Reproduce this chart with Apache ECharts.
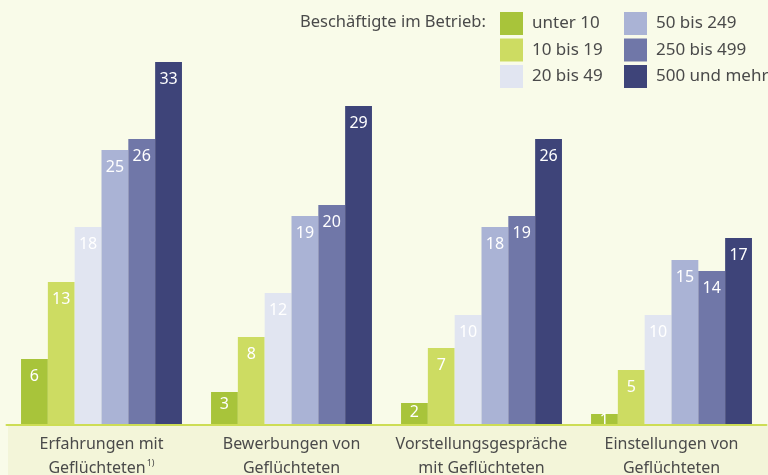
<!DOCTYPE html>
<html>
<head>
<meta charset="utf-8">
<script src="https://cdn.jsdelivr.net/npm/echarts@6/dist/echarts.min.js"></script>
<style>
	html, body { margin: 0; padding: 0; background: #f9fbe9; }
	#main { width: 768px; height: 475px; }
</style>
</head>
<body>
<div id="main"></div>
<script>
// Kategorien (x-Achse)
var categories = ['Erfahrungen mit\nGeflüchteten', 'Bewerbungen von\nGeflüchteten', 'Vorstellungsgespräche\nmit Geflüchteten', 'Einstellungen von\nGeflüchteten'];
var footnotes = ['1)', '', '', ''];

// Betriebsgrößen
var sizeNames = ['unter 10', '10 bis 19', '20 bis 49', '50 bis 249', '250 bis 499', '500 und mehr'];
var unter10 = [6, 3, 2, 1];
var bis19 = [13, 8, 7, 5];
var bis49 = [18, 12, 10, 10];
var bis249 = [25, 19, 18, 15];
var bis499 = [26, 20, 19, 14];
var ab500 = [33, 29, 26, 17];

var colors = ['#a8c43a', '#cddc62', '#e1e5f1', '#aab3d5', '#7077a8', '#3e4479'];
var fontFam = '"Noto Sans", "Open Sans", sans-serif';

var allData = [unter10, bis19, bis49, bis249, bis499, ab500];
var series = [];
for (var i = 0; i < allData.length; i++) {
	series.push({
		name: sizeNames[i],
		type: 'bar',
		barGap: '0%',
		barCategoryGap: '15.3%',
		itemStyle: { color: colors[i] },
		data: allData[i].map(function (v) {
			return {
				value: v,
				label: { distance: Math.min(9, 3 * v - 5) }
			};
		}),
		label: {
			show: true,
			position: 'insideTop',
			color: '#ffffff',
			fontSize: 16,
			fontFamily: fontFam
		}
	});
}

var legendText = { color: '#4a4a4a', fontSize: 17, fontFamily: fontFam, padding: [0, 0, 0, 4] };

var myChart = echarts.init(document.getElementById('main'));
var option = {
	backgroundColor: '#f9fbe9',
	animation: false,
	color: colors,
	title: {
		text: 'Beschäftigte im Betrieb:',
		left: 300,
		top: 14,
		padding: 0,
		textStyle: { color: '#4a4a4a', fontSize: 16.5, fontWeight: 'normal', fontFamily: fontFam }
	},
	legend: [
		{
			data: sizeNames.slice(0, 3),
			orient: 'vertical',
			left: 500,
			top: 12,
			padding: 0,
			itemWidth: 23,
			itemHeight: 23,
			itemGap: 3.5,
			icon: 'rect',
			selectedMode: false,
			textStyle: legendText
		},
		{
			data: sizeNames.slice(3),
			orient: 'vertical',
			left: 624,
			top: 12,
			padding: 0,
			itemWidth: 23,
			itemHeight: 23,
			itemGap: 3.5,
			icon: 'rect',
			selectedMode: false,
			textStyle: legendText
		}
	],
	grid: { left: 6.5, right: 1.5, top: 29, bottom: 50, outerBoundsMode: 'none', containLabel: false },
	graphic: [
		{
			type: 'rect',
			z: 50,
			shape: { x: 8, y: 426, width: 760, height: 49 },
			style: { fill: '#f3f5d9' }
		}
	],
	xAxis: {
		type: 'category',
		data: categories,
		z: 60,
		axisLine: { lineStyle: { color: '#cddd55', width: 2 } },
		axisTick: { show: false },
		axisLabel: {
			interval: 0,
			margin: 7,
			color: '#4a4a4a',
			fontSize: 16,
			lineHeight: 24,
			fontFamily: fontFam,
			formatter: function (v, idx) {
				return footnotes[idx] ? v + '{sup|' + footnotes[idx] + '}' : v;
			},
			rich: {
				sup: { fontSize: 9, color: '#4a4a4a', fontFamily: fontFam, padding: [0, 0, 10, 1] }
			}
		}
	},
	yAxis: {
		type: 'value',
		min: 0,
		max: 36,
		show: false
	},
	series: series
};
myChart.setOption(option);
</script>
</body>
</html>
